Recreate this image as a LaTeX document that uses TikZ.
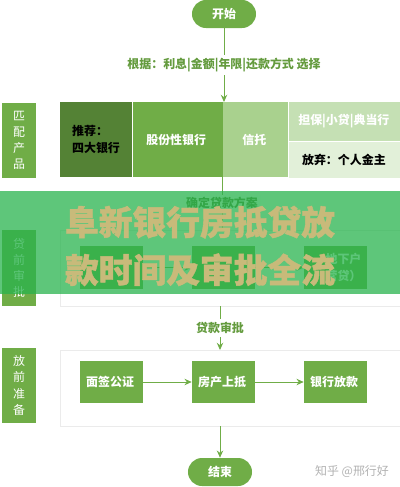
\documentclass[tikz,border=0pt]{standalone}
\usepackage{fontspec}
\setmainfont{Noto Sans CJK SC}
\newfontfamily\heavyfont{Noto Sans CJK SC}[BoldFeatures={FakeBold=1.2}]
\usetikzlibrary{arrows,arrows.meta,positioning,shapes.misc}

\definecolor{pgreen}{RGB}{112,173,71}
\definecolor{dgreen}{RGB}{84,130,53}
\definecolor{lgreen}{RGB}{169,209,142}
\definecolor{pale}{RGB}{197,224,180}
\definecolor{paler}{RGB}{226,240,217}
\definecolor{tgreen}{RGB}{100,155,62}
\definecolor{banner}{RGB}{40,179,77}
\definecolor{tan}{RGB}{200,186,122}

\newcommand{\txt}{\fontsize{8.5}{11.5}\selectfont}

\begin{document}
\begin{tikzpicture}[x=0.025cm,y=-0.025cm, node distance = 0mm and 0mm,
    terminal/.style={rounded rectangle,fill=pgreen,text=white,minimum width=1.6cm,minimum height=0.7cm,inner sep=0pt,font=\txt\bfseries},
    sidelabel/.style={rectangle,fill=pgreen,text=white,minimum width=0.85cm,minimum height=1.875cm,inner sep=0pt,align=center,font=\txt},
    prodcell/.style={rectangle,minimum height=1.875cm,inner sep=0pt,align=left,font=\txt\bfseries},
    stagebox/.style={rectangle,draw=black!8,minimum width=8.5cm,minimum height=1.9cm},
    stepcell/.style={rectangle,fill=pgreen,text=white,minimum width=1.575cm,minimum height=1.06cm,inner sep=0pt,align=center,font=\txt\bfseries},
    flow/.style={-{Stealth[length=1.8mm,width=1.6mm]},line width=0.7pt,draw=pgreen},
    note/.style={text=tgreen,fill=white,font=\txt\bfseries,inner sep=2pt},
   ]
    \useasboundingbox (0,0) rectangle (400,487);

    % start
    \node (start) [terminal] at (224,14) { 开始 };

    % products
    \node (side1) [sidelabel] at (19,140.5) { 匹\\配\\产\\品 };
    \node (rec)   [prodcell,fill=dgreen,minimum width=1.8cm] at (96,139.5) { 推荐：\\四大银行 };
    \node (share) [prodcell,fill=pgreen,text=white,minimum width=2.25cm,right=of rec] { 股份性银行 };
    \node (trust) [prodcell,fill=lgreen,text=white,minimum width=1.625cm,right=of share] { 信托 };
    \node (guar)  [prodcell,fill=pale,text=white,minimum width=2.825cm,minimum height=0.975cm,anchor=north west] at (trust.north east) { 担保|小贷|典当行 };
    \node (drop)  [prodcell,fill=paler,minimum width=2.825cm,minimum height=0.9cm,below=of guar] { 放弃：个人金主 };

    \coordinate (toprow) at (224,102);
    \draw[flow] (start.south) -- node[note] {根据：利息|金额|年限|还款方式 选择} (toprow);

    % pre-loan approval
    \node (side2) [sidelabel] at (19,268) { 贷\\前\\审\\批 };
    \node (stage2) [stagebox] at (230,268) {};
    \node (s2a) [stepcell] at (111.5,267.5) {};
    \node (s2b) [stepcell] at (223.5,267.5) {};
    \node (s2c) [stepcell] at (335.5,267.5) { \hspace*{4mm}地下户\\\hspace*{4mm}营贷） };
    \draw[flow] (s2a) -- (s2b);
    \draw[flow] (s2b) -- (s2c);
    \coordinate (outrow) at (222,177);
    \draw[pgreen,line width=0.7pt] (outrow) -- node[note,text=dgreen] {确定贷款方案} (outrow |- stage2.north);

    % banner
    \fill[banner,opacity=0.75] (0,191) rectangle (400,294);
    \node (title) [text=tan,font=\fontsize{24}{34}\selectfont\heavyfont\bfseries,align=left] at (200,246) { 阜新银行房抵贷放\\款时间及审批全流 };

    % pre-release
    \node (side3) [sidelabel] at (19,385.5) { 放\\前\\准\\备 };
    \node (stage3) [stagebox] at (230,388) {};
    \node (sign)  [stepcell] at (111.5,382) { 面签公证 };
    \node (mort)  [stepcell] at (223.5,382) { 房产上抵 };
    \node (loan)  [stepcell] at (335.5,382) { 银行放款 };
    \draw[flow] (sign) -- (mort);
    \draw[flow] (mort) -- (loan);

    \draw[flow] (220,306) -- node[note] {贷款审批} (220,350);

    % end
    \node (stop) [terminal] at (220,472) { 结束 };
    \draw[flow] (stage3.south -| stop) -- (stop.north);

    \node (mark) [text=black!30,font=\txt] at (352,472) { 知乎 @邢行好 };
  \end{tikzpicture}
\end{document}
